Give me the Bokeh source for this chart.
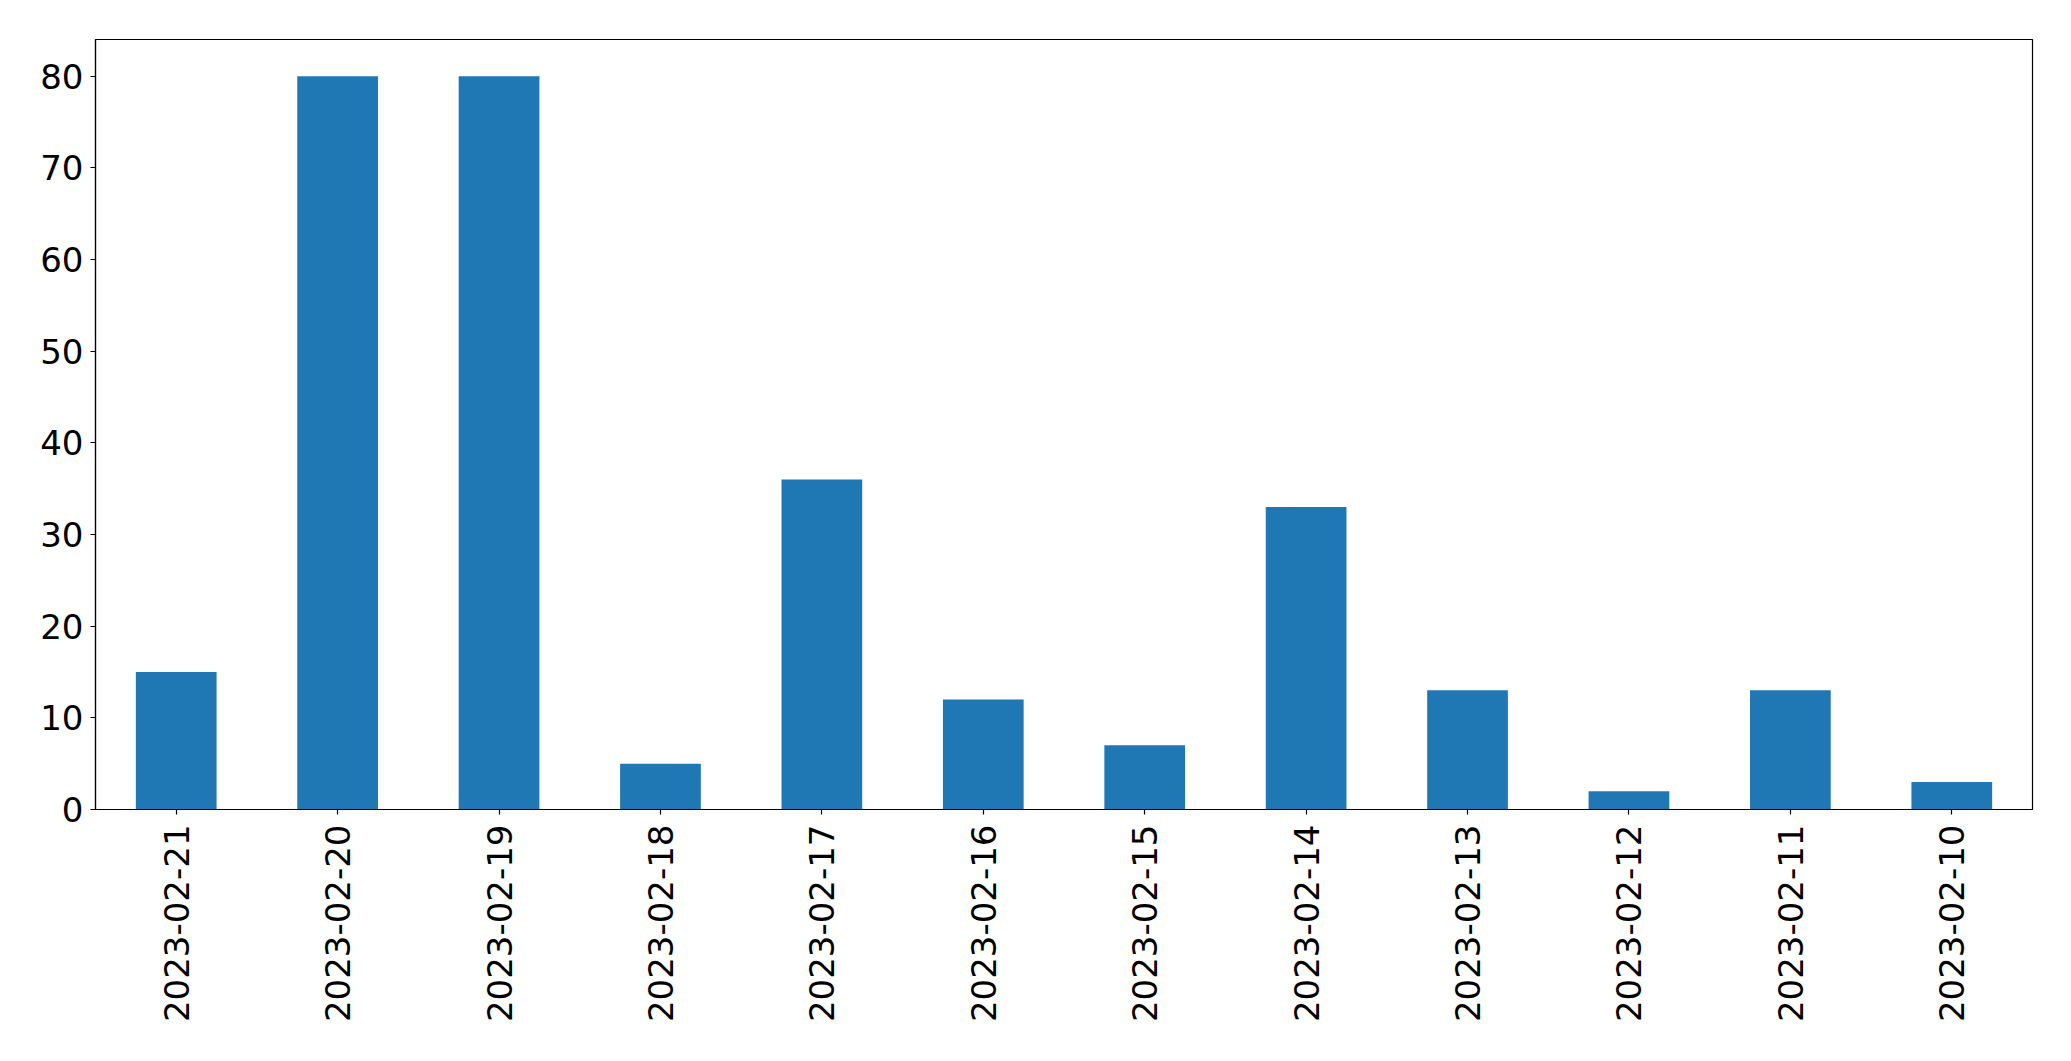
import math
from bokeh.plotting import figure
from bokeh.models import Range1d, FactorRange, FixedTicker, ColumnDataSource
from bokeh.embed import file_html
from bokeh.resources import INLINE

dates = ["2023-02-21", "2023-02-20", "2023-02-19", "2023-02-18", "2023-02-17", "2023-02-16",
         "2023-02-15", "2023-02-14", "2023-02-13", "2023-02-12", "2023-02-11", "2023-02-10"]
counts = [15, 80, 80, 5, 36, 12, 7, 33, 13, 2, 13, 3]
y_ticks = [0, 10, 20, 30, 40, 50, 60, 70, 80]

source = ColumnDataSource(data=dict(date=dates, count=counts))

p = figure(
    x_range=FactorRange(factors=dates),
    y_range=Range1d(0, 84),
    frame_width=1937, frame_height=770,
    min_border_left=95, min_border_top=39, min_border_right=20, min_border_bottom=220,
    output_backend="svg", toolbar_location=None,
)
p.vbar(x="date", top="count", width=0.5, source=source, color="#1f77b4", line_color=None)

p.xgrid.visible = False
p.ygrid.visible = False
p.outline_line_color = "black"
p.outline_line_width = 1.2
p.outline_line_alpha = 1

p.yaxis.ticker = FixedTicker(ticks=y_ticks)
for ax in (p.xaxis[0], p.yaxis[0]):
    ax.major_label_text_font = "DejaVu Sans"
    ax.major_label_text_font_size = "34px"
    ax.major_label_text_color = "black"
    ax.axis_line_color = "black"
    ax.axis_line_width = 1.2
    ax.major_tick_line_color = "black"
    ax.major_tick_line_width = 1.2
    ax.major_tick_out = 5
    ax.major_tick_in = 0
    ax.minor_tick_line_color = None
p.xaxis.major_label_orientation = math.pi / 2
p.xaxis.major_label_standoff = 10
p.yaxis.major_label_standoff = 7

open("out.html", "w").write(file_html(p, INLINE))
